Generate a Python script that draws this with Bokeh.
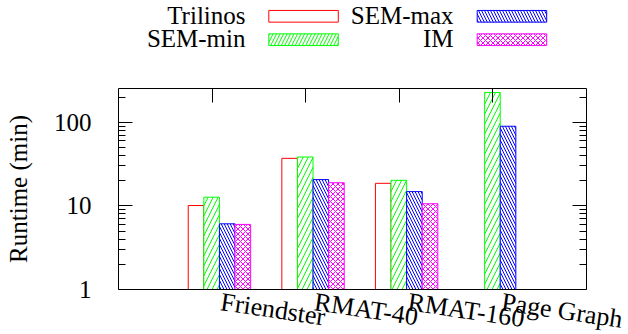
import math
from bokeh.plotting import figure
from bokeh.models import Range1d, LogAxis, LinearAxis, FixedTicker, ColumnDataSource
from bokeh.layouts import column
from bokeh.embed import file_html
from bokeh.resources import INLINE
from bokeh.core.properties import value

# ---------------- data ----------------
datasets = ["Friendster", "RMAT-40", "RMAT-160", "Page Graph"]
series = ["Trilinos", "SEM-min", "SEM-max", "IM"]
trilinos = [10.1, 37.0, 18.6, None]
sem_min = [12.7, 38.4, 20.2, 227.0]
sem_max = [6.1, 20.6, 14.8, 89.5]
im = [6.0, 18.9, 10.6, None]
values = [trilinos, sem_min, sem_max, im]
y_ticks = [1, 10, 100]
y_tick_labels = ["1", "10", "100"]
y_minor = [2, 3, 4, 5, 6, 7, 8, 9, 20, 30, 40, 50, 60, 70, 80, 90, 200]
y_label = "Runtime (min)"

# ---------------- style / layout ----------------
colors = ["#ff0000", "#00ff00", "#0000ff", "#ff00ff"]
hatches = [None, "/", "\\", "x"]
bar_hatch_scales = [6, 10, 6, 5]
leg_hatch_scales = [6, 7, 6, 5]
FONT = "Liberation Serif"
FS = "25px"
FS_X = "26px"

W = 628
LEG_H = 56
MAIN_H = 334 - LEG_H
# plot box (page pixels): left 118, right 586, top 88, bottom 289
BL, BR = 118, 42
BT, BB = 88 - LEG_H, 45
X0, X1 = -1.0, 4.0
Y0, Y1 = 1.0, 253.0

px_per_x = (W - BL - BR) / (X1 - X0)
dec_px = (MAIN_H - BT - BB) / math.log10(Y1 / Y0)
x_range = Range1d(X0 - BL / px_per_x, X1 + BR / px_per_x)
y_range = Range1d(Y0 * 10 ** (-BB / dec_px), Y1 * 10 ** (BT / dec_px))

p = figure(width=W, height=MAIN_H, x_range=x_range, y_range=y_range,
           y_axis_type="log", x_axis_location=None, y_axis_location=None,
           output_backend="svg", toolbar_location=None, min_border=0,
           min_border_left=0, min_border_right=0, min_border_top=0, min_border_bottom=0)
p.xgrid.visible = False
p.ygrid.visible = False
p.outline_line_color = None
p.background_fill_color = "white"
p.border_fill_color = "white"

bar_w = 1.0 / 6.0
for k, (name, vals) in enumerate(zip(series, values)):
    xs, tops = [], []
    for i, v in enumerate(vals):
        if v is not None:
            xs.append(i + (k - 1) * bar_w - 0.005)
            tops.append(v)
    src = ColumnDataSource(dict(x=xs, top=tops))
    kw = dict(x="x", top="top", bottom=Y0, width=bar_w, source=src,
              fill_color="white", line_color=colors[k], line_width=1)
    if hatches[k]:
        kw.update(hatch_pattern=hatches[k], hatch_color=colors[k],
                  hatch_scale=bar_hatch_scales[k], hatch_weight=1)
    p.vbar(**kw)

hidden = dict(major_label_text_font_size="1px", major_label_text_color=None,
              major_label_standoff=0)

# bottom axis with rotated category labels
shift = 0.09375
xa = LinearAxis(fixed_location=Y0, bounds=(X0, X1),
                ticker=FixedTicker(ticks=[i + shift for i in range(len(datasets))]),
                major_label_overrides={i + shift: d for i, d in enumerate(datasets)},
                major_label_orientation=math.radians(-8.5),
                major_label_text_font=FONT, major_label_text_font_size=FS_X,
                major_label_text_color="black", major_label_standoff=12,
                major_tick_in=0, major_tick_out=0, minor_tick_in=0, minor_tick_out=0,
                axis_line_color="black")
p.add_layout(xa, "below")

# left axis
ya = LogAxis(fixed_location=X0, bounds=(Y0, Y1),
             ticker=FixedTicker(ticks=y_ticks, minor_ticks=y_minor),
             major_label_overrides={t: s for t, s in zip(y_ticks, y_tick_labels)},
             major_tick_in=14, major_tick_out=0, minor_tick_in=7, minor_tick_out=0,
             major_label_text_font=FONT, major_label_text_font_size=FS,
             major_label_text_color="black", major_label_standoff=27,
             axis_label=y_label, axis_label_text_font=FONT,
             axis_label_text_font_size=FS, axis_label_text_font_style="normal",
             axis_label_text_color="black", axis_label_standoff=19,
             axis_line_color="black", major_tick_line_color="black",
             minor_tick_line_color="black")
p.add_layout(ya, "left")

# mirrored right axis (ticks only)
ra = LogAxis(fixed_location=X1, bounds=(Y0, Y1),
             ticker=FixedTicker(ticks=y_ticks, minor_ticks=y_minor),
             major_tick_in=14, major_tick_out=0, minor_tick_in=7, minor_tick_out=0,
             axis_line_color="black", major_tick_line_color="black",
             minor_tick_line_color="black", **hidden)
p.add_layout(ra, "right")

# mirrored top axis (ticks only)
ta = LinearAxis(fixed_location=Y1, bounds=(X0, X1),
                ticker=FixedTicker(ticks=list(range(len(datasets)))),
                major_tick_in=14, major_tick_out=0, minor_tick_in=0, minor_tick_out=0,
                axis_line_color="black", major_tick_line_color="black", **hidden)
p.add_layout(ta, "above")

# ---------------- legend figure (page-pixel coordinates) ----------------
lg = figure(width=W, height=LEG_H, x_range=Range1d(0, W), y_range=Range1d(LEG_H, 0),
            output_backend="svg", toolbar_location=None, min_border=0,
            min_border_left=0, min_border_right=0, min_border_top=0, min_border_bottom=0,
            x_axis_location=None, y_axis_location=None)
lg.xgrid.visible = False
lg.ygrid.visible = False
lg.outline_line_color = None
lg.background_fill_color = "white"
lg.border_fill_color = "white"

text_right = [245, 453]
box_left = [268.3, 476.7]
box_w = 69.5
row_c = [15.8, 39.2]
box_h = 11.7
for j, name in enumerate(series):
    col, row = j // 2, j % 2
    lg.text(x=[text_right[col]], y=[row_c[row] - 1], text=[name], text_align="right",
            text_baseline="middle", text_font=value(FONT), text_font_size=value(FS),
            text_color="black")
    kw = dict(left=[box_left[col]], right=[box_left[col] + box_w],
              top=[row_c[row] - box_h / 2], bottom=[row_c[row] + box_h / 2],
              fill_color="white", line_color=colors[j], line_width=1)
    if hatches[j]:
        kw.update(hatch_pattern=hatches[j], hatch_color=colors[j],
                  hatch_scale=leg_hatch_scales[j], hatch_weight=1)
    lg.quad(**kw)

layout = column(lg, p, spacing=0)
open("out.html", "w").write(file_html(layout, INLINE))
